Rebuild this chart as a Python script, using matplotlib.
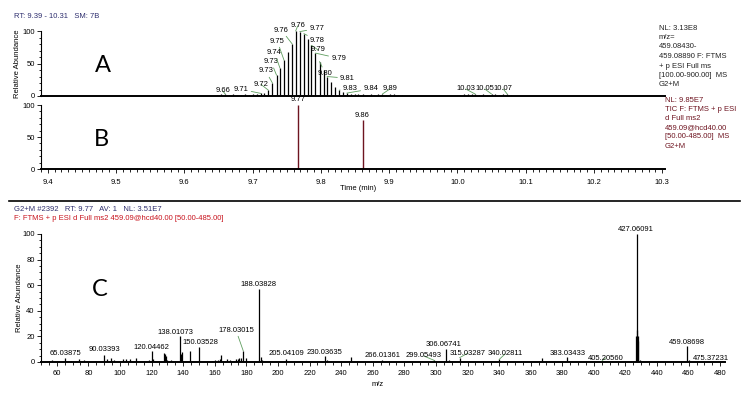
import numpy as np
import matplotlib.pyplot as plt

plt.rcParams['font.family'] = ['Liberation Sans', 'DejaVu Sans']

W, H = 748, 395

# --- A: extracted ion chromatogram m/z 459.0843-459.0889
time_a = [9.648, 9.654, 9.660, 9.666, 9.671, 9.677, 9.683, 9.689, 9.694, 9.700,
          9.706, 9.712, 9.717, 9.723, 9.729, 9.735, 9.740, 9.746, 9.752, 9.758,
          9.763, 9.769, 9.775, 9.781, 9.786, 9.792, 9.798, 9.804, 9.809, 9.815,
          9.821, 9.827, 9.832, 9.838, 9.844, 9.850, 9.855, 9.861, 9.867, 9.873,
          9.878, 9.884, 9.890, 9.896, 9.901, 9.907, 9.913, 9.919,
          10.003, 10.009, 10.015, 10.021, 10.026, 10.032, 10.038, 10.044, 10.050, 10.055,
          10.061, 10.067, 10.073, 10.078]
abund_a = [1.5, 2.5, 3, 2, 2.5, 1.5, 2, 3, 2, 2.5,
           3, 4, 5, 9, 20, 32, 43, 55, 67, 80,
           100, 99, 96, 88, 78, 66, 53, 40, 30, 21,
           14, 9, 6, 4.5, 3.5, 3, 2.5, 3, 2, 2.5,
           2, 2.5, 3, 2, 2.5, 3, 2, 1.5,
           1.5, 2.5, 3, 2.5, 3, 2, 2.5, 2, 3, 2.5,
           2, 2.5, 3, 2]
labels_a = ['9.66', '9.71', '9.72', '9.73', '9.73', '9.74', '9.75', '9.76', '9.76', '9.77',
            '9.78', '9.79', '9.79', '9.80', '9.81', '9.83', '9.84', '9.89', '10.03', '10.05', '10.07']
label_ref_a = [9.660, 9.712, 9.723, 9.729, 9.735, 9.740, 9.746, 9.758, 9.763, 9.769,
               9.775, 9.786, 9.792, 9.798, 9.809, 9.827, 9.838, 9.890, 10.026, 10.050, 10.073]
# where the software put each label (data units)
label_xy_a = [(9.656, 7.7), (9.683, 10.3), (9.712, 18), (9.719, 38.5), (9.727, 52.8),
              (9.732, 67), (9.736, 84.6), (9.742, 101.5), (9.766, 107.7), (9.794, 104),
              (9.795, 85), (9.796, 70.8), (9.826, 58), (9.806, 35), (9.839, 27.2),
              (9.843, 11.8), (9.873, 10.8), (9.901, 10.8), (10.012, 10.8), (10.040, 10.8),
              (10.067, 10.8)]

# --- B: TIC of the ms2 scans
time_b = [9.767, 9.861]
abund_b = [100, 77]
labels_b = ['9.77', '9.86']
label_xy_b = [(9.767, 108), (9.861, 83)]

# --- C: ms2 spectrum at RT 9.77
mz_c = [55.05, 57.07, 65.04, 69.03, 74.02, 77.04, 79.05, 84.04, 90.03, 92.05,
        94.04, 96.04, 102.05, 104.05, 106.07, 110.06, 118.07, 120.04, 121.05, 128.05,
        128.6, 129.06, 130.07, 132.08, 138.01, 138.6, 139.02, 144.04, 150.04, 158.5,
        160.06, 162.05, 163.04, 164.05, 167.5, 169.5, 173.6, 174.6, 175.6, 176.5,
        178.03, 180.06, 188.04, 189.04, 190.05, 195.0, 200.0, 205.04, 214.0, 230.04,
        231.04, 246.0, 266.01, 299.05, 306.07, 308.07, 315.03, 318.0, 330.0, 340.03,
        341.03, 367.0, 383.03, 384.04, 405.21, 426.7, 427.06, 427.4, 427.7, 428.06,
        429.0, 459.09, 460.1, 475.37]
ab_c = [1.0, 1.2, 3.4, 1.0, 2.6, 1.2, 1.0, 1.0, 5.5, 2.0,
        3.0, 1.2, 2.0, 2.2, 2.4, 3.4, 1.5, 8.6, 2.0, 7.0,
        6.3, 4.7, 1.5, 1.2, 20.3, 6.0, 7.8, 8.6, 11.7, 1.0,
        1.2, 1.5, 2.0, 5.5, 2.3, 1.5, 2.5, 2.5, 2.8, 3.0,
        8.7, 3.2, 56.8, 3.6, 1.5, 1.0, 1.0, 2.0, 1.0, 4.7,
        1.5, 3.6, 1.5, 1.2, 10.0, 1.2, 3.4, 1.0, 1.0, 2.0,
        1.0, 3.4, 3.6, 1.0, 1.0, 20.0, 100, 25.0, 20.0, 16.4,
        1.5, 12.5, 1.2, 1.0]
labels_c = ['65.03875', '90.03393', '120.04462', '138.01073', '150.03528', '178.03015',
            '188.03828', '205.04109', '230.03635', '266.01361', '299.05493', '306.06741',
            '315.03287', '340.02811', '383.03433', '405.20560', '427.06091', '459.08698',
            '475.37231']
label_ref_c = [65.04, 90.03, 120.04, 138.01, 150.04, 178.03, 188.04, 205.04, 230.04, 266.01,
               299.05, 306.07, 315.03, 340.03, 383.03, 405.21, 427.06, 459.09, 475.37]
label_xy_c = [(65.3, 7.0), (90.1, 9.4), (120.0, 11.7), (135.2, 23.4), (151.1, 15.6),
              (173.4, 25.0), (187.4, 60.2), (205.2, 6.3), (229.3, 7.8), (266.2, 4.7),
              (292.3, 4.7), (305.0, 14.0), (320.3, 7.0), (343.8, 6.3), (383.2, 7.0),
              (407.4, 3.1), (426.5, 103.9), (458.9, 15.6), (474.2, 3.1)]
leader_c = ['178.03015', '299.05493', '315.03287', '340.02811', '405.20560']

green = '#5f9e5f'
navy = '#2e2e6e'
maroon = '#6e1420'
fs = 5.5


def px(x, y):
    return x / W, 1 - y / H


def rect(x0, y0, x1, y1):
    return [x0 / W, 1 - y1 / H, (x1 - x0) / W, (y1 - y0) / H]


def style(ax):
    for s in ['top', 'right']:
        ax.spines[s].set_visible(False)
    ax.spines['left'].set_linewidth(0.8)
    ax.spines['bottom'].set_linewidth(1.4)
    ax.tick_params(labelsize=fs, length=3, width=0.6, pad=1.5)
    ax.tick_params(which='minor', length=1.8, width=0.6)
    ax.patch.set_alpha(0)


fig = plt.figure(figsize=(W / 100, H / 100), dpi=100)

# panel A
axA = fig.add_axes(rect(41, 31, 665, 96))
axA.vlines(time_a, 0, abund_a, color='black', lw=0.9)
axA.set_xlim(9.39, 10.304)
axA.set_ylim(0, 100)
axA.set_yticks([0, 50, 100])
axA.set_yticks(np.arange(0, 101, 10), minor=True)
axA.set_xticks([])
style(axA)
h_a = dict(zip(time_a, abund_a))
for txt, ref, (lx, ly) in zip(labels_a, label_ref_a, label_xy_a):
    axA.annotate(txt, xy=(ref, h_a[ref]), xytext=(lx, ly), ha='center', va='center',
                 fontsize=fs, annotation_clip=False,
                 arrowprops=dict(arrowstyle='-', color=green, lw=0.6, shrinkA=0, shrinkB=0))
axA.set_ylabel('Relative Abundance', fontsize=fs, labelpad=2)
axA.yaxis.set_label_coords(-0.032, 0.5)

# panel B
axB = fig.add_axes(rect(41, 105, 665, 169))
axB.vlines(time_b, 0, abund_b, color=maroon, lw=1.0)
axB.set_xlim(9.39, 10.304)
axB.set_ylim(0, 100)
axB.set_yticks([0, 50, 100])
axB.set_yticks(np.arange(0, 101, 10), minor=True)
axB.set_xticks(np.arange(9.4, 10.31, 0.1))
axB.set_xticklabels(['%.1f' % v for v in np.arange(9.4, 10.31, 0.1)])
axB.set_xticks(np.arange(9.39, 10.305, 0.01), minor=True)
style(axB)
axB.tick_params(axis='x', pad=4)
for txt, (lx, ly) in zip(labels_b, label_xy_b):
    axB.text(lx, ly, txt, ha='center', va='center', fontsize=fs, clip_on=False)

# panel C
axC = fig.add_axes(rect(41, 234, 725, 362))
axC.vlines(mz_c, 0, ab_c, color='black', lw=0.9)
axC.set_xlim(50, 483)
axC.set_ylim(0, 100)
axC.set_yticks(np.arange(0, 101, 20))
axC.set_yticks(np.arange(0, 101, 5), minor=True)
axC.set_xticks(np.arange(60, 481, 20))
axC.set_xticks(np.arange(50, 483, 5), minor=True)
style(axC)
axC.tick_params(axis='x', pad=3)
h_c = dict(zip(mz_c, ab_c))
for txt, ref, (lx, ly) in zip(labels_c, label_ref_c, label_xy_c):
    if txt in leader_c:
        axC.annotate(txt, xy=(ref, h_c[ref]), xytext=(lx, ly), ha='center', va='center',
                     fontsize=fs, annotation_clip=False,
                     arrowprops=dict(arrowstyle='-', color=green, lw=0.6, shrinkA=0, shrinkB=0))
    else:
        axC.text(lx, ly, txt, ha='center', va='center', fontsize=fs, clip_on=False)
axC.set_ylabel('Relative Abundance', fontsize=fs, labelpad=2)
axC.yaxis.set_label_coords(-0.026, 0.5)

# header / side texts
fig.text(*px(14, 17), 'RT: 9.39 - 10.31   SM: 7B', fontsize=fs, color=navy, va='center')
info_a = ['NL: 3.13E8', 'm/z=', '459.08430-', '459.08890 F: FTMS', '+ p ESI Full ms',
          '[100.00-900.00]  MS', 'G2+M']
for i, s in enumerate(info_a):
    fig.text(*px(659, 28 + i * 9.5), s, fontsize=fs, color='#222222', va='center')
info_b = ['NL: 9.85E7', 'TIC F: FTMS + p ESI', 'd Full ms2', '459.09@hcd40.00',
          '[50.00-485.00]  MS', 'G2+M']
for i, s in enumerate(info_b):
    fig.text(*px(665, 100 + i * 9.2), s, fontsize=fs, color=maroon, va='center')
fig.text(*px(358, 189), 'Time (min)', fontsize=fs, ha='center', va='center')
fig.text(*px(378, 385), 'm/z', fontsize=fs, ha='center', va='center')
fig.add_artist(plt.Line2D([9 / W, 740 / W], [1 - 201 / H, 1 - 201 / H], color='black', lw=1.2))
fig.text(*px(14, 209), 'G2+M #2392   RT: 9.77   AV: 1   NL: 3.51E7', fontsize=fs,
         color=navy, va='center')
fig.text(*px(14, 218), 'F: FTMS + p ESI d Full ms2 459.09@hcd40.00 [50.00-485.00]',
         fontsize=fs, color='#c8141e', va='center')

for letter, (x, y) in zip(['A', 'B', 'C'], [(103, 66), (101, 139), (100, 290)]):
    fig.text(*px(x, y), letter, fontsize=17, family='Lato', ha='center', va='center')

fig.savefig('out.png', dpi=100)
